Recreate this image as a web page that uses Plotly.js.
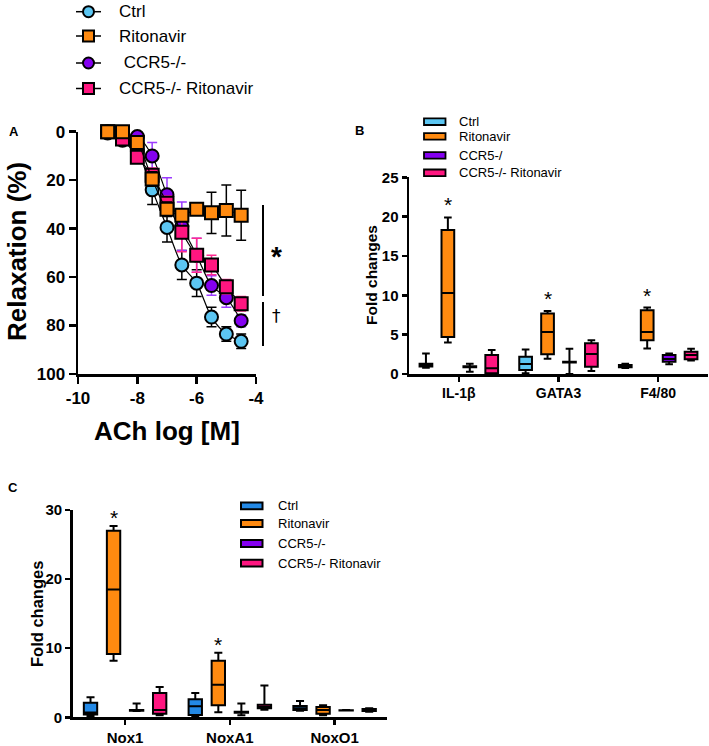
<!DOCTYPE html>
<html><head><meta charset="utf-8">
<script src="https://cdn.plot.ly/plotly-3.0.1.min.js"></script>
<style>html,body{margin:0;padding:0;background:#fff}#chart{width:709px;height:746px}</style>
</head><body><div id="chart"></div>
<script>
// ---------- Panel A data (ACh concentration-response) ----------
const doseA   = [-9, -8.5, -8, -7.5, -7, -6.5, -6, -5.5, -5, -4.5];
const ctrlA   = [0, 2, 8, 24, 39.5, 55, 62.5, 76.5, 83.5, 86.5];
const ctrlErr = [1, 1.5, 2, 6, 6, 6, 5.5, 4, 3, 3];
const ritoA   = [0, 0, 4.5, 19.5, 32, 34.5, 32, 33.5, 32.5, 34.5];
const ritoErr = [1, 1, 2.5, 3, 3, 2, 2.5, 8.5, 10.5, 10.3];
const ccr5A   = [0.5, 3.5, 2, 10, 26, 39, 51, 63.5, 68.5, 78];
const ccr5Err = [1, 2, 2, 5.5, 7, 10, 7, 4, 4, 2.5];
const ccrRA   = [0, 3, 10.5, 18, 29.5, 41.5, 51, 55, 64, 71];
const ccrRErr = [1, 1.5, 2, 3, 3, 8, 7, 4, 3, 3];
const namesA  = ['Ctrl', 'Ritonavir', ' CCR5-/-', 'CCR5-/- Ritonavir'];
const ticksAx = [-10, -8, -6, -4];
const ticksAy = [0, 20, 40, 60, 80, 100];

// ---------- Panel B data (box stats per category) ----------
const catsB = ['IL-1β', 'GATA3', 'F4/80'];
const namesB = ['Ctrl', 'Ritonavir', 'CCR5-/', 'CCR5-/- Ritonavir'];
const ctrlB_lo = [0.8, 0.1, 0.75], ctrlB_q1 = [0.95, 0.5, 0.85], ctrlB_md = [1.1, 1.27, 1.0], ctrlB_q3 = [1.3, 2.2, 1.15], ctrlB_hi = [2.6, 3.1, 1.3];
const ritoB_lo = [4.0, 1.95, 3.25], ritoB_q1 = [4.7, 2.5, 4.3], ritoB_md = [10.3, 5.35, 5.35], ritoB_q3 = [18.3, 7.7, 8.1], ritoB_hi = [19.9, 8.0, 8.45];
const ccr5B_lo = [0.3, 0.0, 1.23], ccr5B_q1 = [0.85, 1.45, 1.57], ccr5B_md = [0.95, 1.5, 1.9], ccr5B_q3 = [1.0, 1.55, 2.4], ccr5B_hi = [1.3, 3.2, 2.6];
const ccrRB_lo = [0.05, 0.38, 1.7], ccrRB_q1 = [0.1, 0.93, 1.86], ccrRB_md = [0.72, 2.54, 2.4], ccrRB_q3 = [2.4, 3.9, 2.83], ccrRB_hi = [3.05, 4.3, 3.2];
const sigB = [true, true, true];

// ---------- Panel C data ----------
const catsC = ['Nox1', 'NoxA1', 'NoxO1'];
const namesC = ['Ctrl', 'Ritonavir', 'CCR5-/-', 'CCR5-/- Ritonavir'];
const ctrlC_lo = [0.2, 0.2, 0.95], ctrlC_q1 = [0.4, 0.33, 1.05], ctrlC_md = [0.7, 1.6, 1.3], ctrlC_q3 = [2.1, 2.6, 1.63], ctrlC_hi = [2.9, 3.5, 2.36];
const ritoC_lo = [8.2, 0.72, 0.3], ritoC_q1 = [9.15, 1.73, 0.5], ritoC_md = [18.5, 4.7, 1.05], ritoC_q3 = [27.0, 8.2, 1.5], ritoC_hi = [27.7, 9.35, 1.74];
const ccr5C_lo = [0.9, 0.3, 0.98], ccr5C_q1 = [0.95, 0.65, 1.0], ccr5C_md = [1.0, 0.75, 1.0], ccr5C_q3 = [1.05, 0.8, 1.02], ccr5C_hi = [2.0, 2.0, 1.05];
const ccrRC_lo = [0.3, 1.1, 0.8], ccrRC_q1 = [0.5, 1.3, 0.9], ccrRC_md = [1.05, 1.5, 1.0], ccrRC_q3 = [3.5, 1.8, 1.2], ccrRC_hi = [4.4, 4.6, 1.3];
const sigC = [true, true, false];

// ---------- styling ----------
const W = 709, H = 746;
const FONT = 'Liberation Sans, Arial, Helvetica, sans-serif';
const X = p => p / W, Y = p => 1 - p / H;
const cLight = '#5cc6f2', cBlue = '#2389e6', cOrange = '#ff8a10', cPurple = '#8400f0', cPink = '#ff1680';
const cPurpleErr = '#9b3bff', cPinkErr = '#ff2a90';

function lineTrace(y, err, errColor, sym, color) {
  return {type: 'scatter', mode: 'lines+markers', x: doseA, y: y, xaxis: 'x', yaxis: 'y',
    line: {color: '#000', width: 1.2, shape: 'spline', smoothing: 0.8},
    marker: {symbol: sym, size: 13, color: color, line: {color: '#000', width: 2}},
    error_y: {type: 'data', array: err, visible: true, color: errColor, thickness: 1.5, width: 5},
    cliponaxis: false, showlegend: false, hoverinfo: 'skip'};
}
function boxTrace(cats, lo, q1, md, q3, hi, fill, xa, ya, grp, off) {
  return {type: 'box', x: cats, lowerfence: lo, q1: q1, median: md, q3: q3, upperfence: hi,
    fillcolor: fill, line: {color: '#000', width: 2}, whiskerwidth: 0.6, boxpoints: false,
    alignmentgroup: grp, offsetgroup: off,
    xaxis: xa, yaxis: ya, showlegend: false, hoverinfo: 'skip'};
}

const data = [
  lineTrace(ctrlA, ctrlErr, '#000', 'circle', cLight),
  lineTrace(ccr5A, ccr5Err, cPurpleErr, 'circle', cPurple),
  lineTrace(ccrRA, ccrRErr, cPinkErr, 'square', cPink),
  lineTrace(ritoA, ritoErr, '#000', 'square', cOrange),
  boxTrace(catsB, ctrlB_lo, ctrlB_q1, ctrlB_md, ctrlB_q3, ctrlB_hi, cLight, 'x2', 'y2', 'B', 'b1'),
  boxTrace(catsB, ritoB_lo, ritoB_q1, ritoB_md, ritoB_q3, ritoB_hi, cOrange, 'x2', 'y2', 'B', 'b2'),
  boxTrace(catsB, ccr5B_lo, ccr5B_q1, ccr5B_md, ccr5B_q3, ccr5B_hi, cPurple, 'x2', 'y2', 'B', 'b3'),
  boxTrace(catsB, ccrRB_lo, ccrRB_q1, ccrRB_md, ccrRB_q3, ccrRB_hi, cPink, 'x2', 'y2', 'B', 'b4'),
  boxTrace(catsC, ctrlC_lo, ctrlC_q1, ctrlC_md, ctrlC_q3, ctrlC_hi, cBlue, 'x3', 'y3', 'C', 'c1'),
  boxTrace(catsC, ritoC_lo, ritoC_q1, ritoC_md, ritoC_q3, ritoC_hi, cOrange, 'x3', 'y3', 'C', 'c2'),
  boxTrace(catsC, ccr5C_lo, ccr5C_q1, ccr5C_md, ccr5C_q3, ccr5C_hi, cPurple, 'x3', 'y3', 'C', 'c3'),
  boxTrace(catsC, ccrRC_lo, ccrRC_q1, ccrRC_md, ccrRC_q3, ccrRC_hi, cPink, 'x3', 'y3', 'C', 'c4')
];

const axBase = {showline: true, linecolor: '#000', linewidth: 2.5, ticks: 'outside', tickcolor: '#000',
  tickwidth: 2.5, showgrid: false, zeroline: false, fixedrange: true};

const shapes = [], annotations = [];
function txt(x, y, text, size, opts) {
  annotations.push(Object.assign({xref: 'paper', yref: 'paper', x: X(x), y: Y(y), text: text, showarrow: false,
    font: {family: FONT, size: size, color: '#000'}, xanchor: 'center', yanchor: 'middle'}, opts || {}));
}
function line(x0, y0, x1, y1, w) {
  shapes.push({type: 'line', xref: 'paper', yref: 'paper', x0: X(x0), y0: Y(y0), x1: X(x1), y1: Y(y1), line: {color: '#000', width: w}});
}

// Panel A legend
const legA = [[cLight, 'circle', 11.7, 117], [cOrange, 'square', 36, 117], [cPurple, 'circle', 63, 117], [cPink, 'square', 88.5, 117]];
legA.forEach((e, i) => {
  line(76, e[2], 101, e[2], 1.5);
  shapes.push({type: e[1] === 'circle' ? 'circle' : 'rect', xref: 'paper', yref: 'paper',
    x0: X(83), x1: X(94), y0: Y(e[2] + 5.5), y1: Y(e[2] - 5.5), fillcolor: e[0], line: {color: '#000', width: 2}});
  txt(e[3], e[2], namesA[i], 17, {xanchor: 'left'});
});

// Panel A significance
line(263, 205, 263, 296, 2);
line(263, 302, 263, 346, 2);
txt(276, 256, '*', 28, {font: {family: FONT, size: 28, color: '#000', weight: 'bold'}});
txt(276, 316, '†', 19, {font: {family: 'DejaVu Sans, sans-serif', size: 17, color: '#000'}});

// Titles & panel labels
const bold = s => ({family: FONT, size: s, color: '#000', weight: 'bold'});
txt(17, 252, 'Relaxation (%)', 26, {textangle: -90, font: bold(26)});
txt(167, 431, 'ACh log [M]', 26, {font: bold(26)});
txt(371, 275, 'Fold changes', 15.5, {textangle: -90, font: bold(15.5)});
txt(37, 614, 'Fold changes', 16.5, {textangle: -90, font: bold(16.5)});
txt(14, 131, 'A', 13, {font: bold(13)});
txt(359, 130, 'B', 13, {font: bold(13)});
txt(13, 487, 'C', 13, {font: bold(13)});

// Panel B legend
const legB = [[cLight, 121.7], [cOrange, 136.4], [cPurple, 155.4], [cPink, 172.8]];
legB.forEach((e, i) => {
  shapes.push({type: 'rect', xref: 'paper', yref: 'paper', x0: X(424), x1: X(445.5), y0: Y(e[1] + 3.3), y1: Y(e[1] - 3.3),
    fillcolor: e[0], line: {color: '#000', width: 1.8}});
  txt(457, e[1], namesB[i], 13, {xanchor: 'left'});
});
// Panel C legend
const legC = [[cBlue, 505.8], [cOrange, 523.5], [cPurple, 543.5], [cPink, 563.2]];
legC.forEach((e, i) => {
  shapes.push({type: 'rect', xref: 'paper', yref: 'paper', x0: X(241), x1: X(262.5), y0: Y(e[1] + 3.4), y1: Y(e[1] - 3.4),
    fillcolor: e[0], line: {color: '#000', width: 2}});
  txt(276, e[1], namesC[i], 13, {xanchor: 'left'});
});

// Significance asterisks over Ritonavir boxes
catsB.forEach((c, i) => { if (sigB[i]) annotations.push({xref: 'x2', yref: 'y2', x: c, y: ritoB_hi[i], xshift: -11, yshift: -1,
  text: '*', showarrow: false, yanchor: 'bottom', font: {family: FONT, size: 21, color: '#000'}}); });
catsC.forEach((c, i) => { if (sigC[i]) annotations.push({xref: 'x3', yref: 'y3', x: c, y: ritoC_hi[i], xshift: -11.5, yshift: -5,
  text: '*', showarrow: false, yanchor: 'bottom', font: {family: FONT, size: 21, color: '#000'}}); });

const layout = {
  width: W, height: H, margin: {l: 0, r: 0, t: 0, b: 0}, paper_bgcolor: '#fff', plot_bgcolor: 'rgba(0,0,0,0)',
  showlegend: false, font: {family: FONT, color: '#000'},
  boxmode: 'group', boxgap: 0.12, boxgroupgap: 0.42,
  xaxis: Object.assign({}, axBase, {domain: [X(78), X(256)], anchor: 'y', range: [-10, -4], tickmode: 'array', tickvals: ticksAx,
    ticktext: ticksAx.map(String), ticklen: 7, tickfont: bold(17)}),
  yaxis: Object.assign({}, axBase, {domain: [Y(374), Y(131.7)], anchor: 'x', range: [100, 0], tickmode: 'array', tickvals: ticksAy,
    ticktext: ticksAy.map(String), ticklen: 7, tickfont: bold(17)}),
  xaxis2: Object.assign({}, axBase, {domain: [X(409), X(708)], anchor: 'y2', type: 'category', range: [-0.5, 2.5], ticklen: 5,
    tickfont: bold(14)}),
  yaxis2: Object.assign({}, axBase, {domain: [Y(374), Y(177.3)], anchor: 'x2', range: [0, 25], dtick: 5, tick0: 0, ticklen: 5,
    tickfont: bold(15)}),
  xaxis3: Object.assign({}, axBase, {domain: [X(72.7), X(387)], anchor: 'y3', type: 'category', range: [-0.5, 2.5], ticklen: 5,
    tickfont: bold(15)}),
  yaxis3: Object.assign({}, axBase, {domain: [Y(717.3), Y(510)], anchor: 'x3', range: [0, 30], dtick: 10, tick0: 0, ticklen: 5,
    tickfont: bold(15)}),
  shapes: shapes, annotations: annotations
};
Plotly.newPlot('chart', data, layout, {displayModeBar: false, staticPlot: true});
</script></body></html>
